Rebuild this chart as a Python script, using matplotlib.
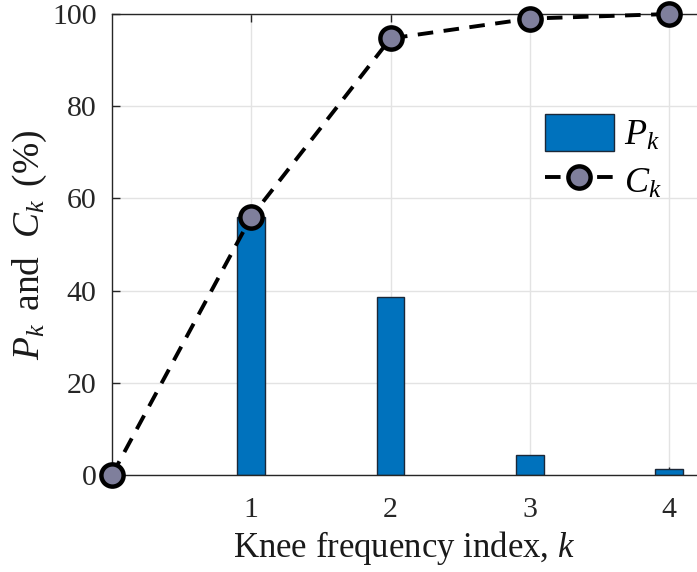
import numpy as np
import matplotlib.pyplot as plt
from matplotlib.lines import Line2D
from matplotlib.patches import Patch

plt.rcParams['font.family'] = ['Liberation Serif', 'DejaVu Serif']
plt.rcParams['mathtext.fontset'] = 'custom'
plt.rcParams['mathtext.rm'] = 'Liberation Serif'
plt.rcParams['mathtext.it'] = 'Liberation Serif:italic'

# knee frequency index and share of each knee (%)
k = [1, 2, 3, 4]
p_k = [56.0, 38.7, 4.3, 1.2]

# cumulative share, starting from zero at k = 0
k_cum = [0, 1, 2, 3, 4]
c_k = [0, 56.0, 94.7, 99.0, 100.0]

bar_color = '#0072BD'
bar_edge = '#1b2838'
axis_color = '#262626'
dash = (0, (4.0, 2.7))
marker_style = dict(marker='o', markersize=16, markerfacecolor='#7f7f9c',
                    markeredgecolor='black', markeredgewidth=3.2)

fig = plt.figure(figsize=(6.97, 5.72), dpi=100)
ax = fig.add_axes([112 / 697, 1 - 475 / 572, (697 - 112) / 697, (475 - 14) / 572])

ax.bar(k, p_k, width=0.2, color=bar_color, edgecolor=bar_edge, linewidth=1.0,
       zorder=2)
ax.plot(k_cum, c_k, linestyle=dash, color='black', linewidth=2.8, zorder=3,
        clip_on=False, **marker_style)

ax.set_xlim(0, 4.2)
ax.set_ylim(0, 100)
ax.set_xticks(k)
ax.set_yticks(np.arange(0, 101, 20))
ax.grid(True, color='#e3e3e3', linewidth=1.0, zorder=0)
ax.set_axisbelow(True)

for side in ('left', 'bottom', 'top'):
    ax.spines[side].set_color(axis_color)
    ax.spines[side].set_linewidth(1.0)
ax.spines['right'].set_visible(False)
ax.tick_params(direction='in', length=6, width=1.0, colors=axis_color,
               labelsize=21.5, top=True)
ax.tick_params(axis='y', pad=11)
ax.tick_params(axis='x', pad=16)

ax.set_xlabel('Knee frequency index, $k$', fontsize=25, color='#1a1a1a',
              labelpad=4)
ax.set_ylabel(r'$P_{k}\,$ and  $C_{k}\,$ (%)', fontsize=27, color='#1a1a1a',
              labelpad=2)

handles = [
    Patch(facecolor=bar_color, edgecolor=bar_edge, linewidth=1.0),
    Line2D([], [], linestyle=dash, color='black', linewidth=2.8, **marker_style),
]
ax.legend(handles, ['$P_{k}$', '$C_{k}$'], loc='upper left',
          bbox_to_anchor=(0.74, 0.783), frameon=False, fontsize=26,
          handlelength=1.9, handleheight=1.2, handletextpad=0.3,
          labelspacing=0.25, borderaxespad=0, borderpad=0)

fig.savefig('out.png', dpi=100)
